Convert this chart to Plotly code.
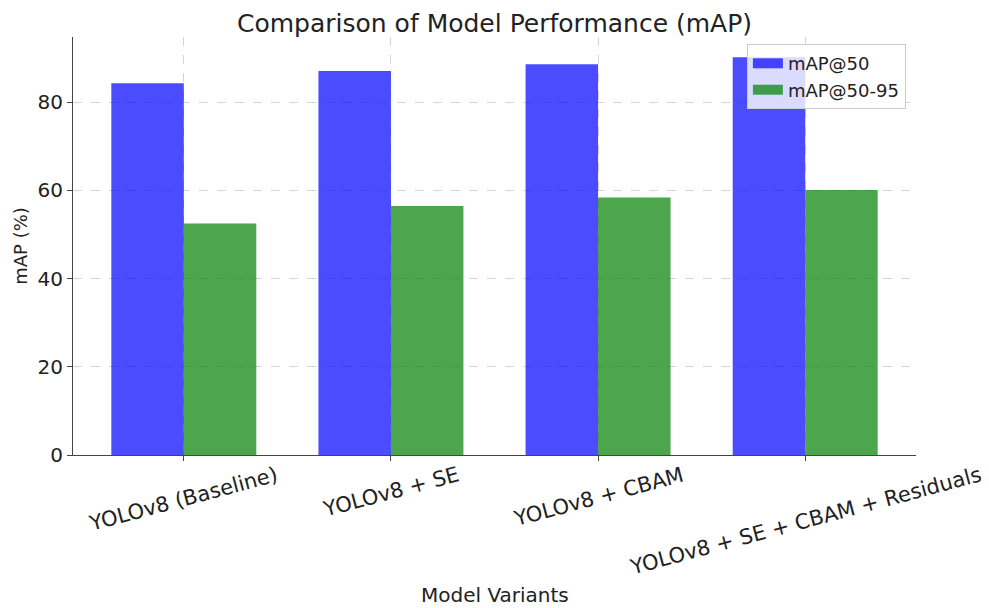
import plotly.graph_objects as go

models = ["YOLOv8 (Baseline)", "YOLOv8 + SE", "YOLOv8 + CBAM", "YOLOv8 + SE + CBAM + Residuals"]
map50 = [84.3, 87.1, 88.6, 90.2]
map50_95 = [52.5, 56.5, 58.4, 60.1]
series_names = ["mAP@50", "mAP@50-95"]
y_ticks = [0, 20, 40, 60, 80]

FONT = "DejaVu Sans"
TXT = "#222222"
COLORS = ["rgba(0,0,255,0.7)", "rgba(0,128,0,0.7)"]

fig = go.Figure()
for name, vals, col in zip(series_names, [map50, map50_95], COLORS):
    fig.add_trace(go.Bar(x=models, y=vals, name=name, showlegend=False, legendgroup=name,
                         marker=dict(color=col, line=dict(width=0))))
# legend entries drawn as wide rectangular swatches (like matplotlib patches)
for name, col in zip(series_names, COLORS):
    fig.add_trace(go.Scatter(x=[None], y=[None], mode="lines", name=name, legendgroup=name,
                             line=dict(color=col, width=11), hoverinfo="skip"))

for m in models:
    fig.add_annotation(x=m, y=0, xref="x", yref="paper", text=m, showarrow=False,
                       textangle=-15, xanchor="center", yanchor="top", yshift=-5,
                       font=dict(family=FONT, size=21, color=TXT))

fig.add_annotation(x=0.5, y=0, xref="paper", yref="paper", text="Model Variants",
                   showarrow=False, xanchor="center", yanchor="middle", yshift=-140,
                   font=dict(family=FONT, size=20, color=TXT))

fig.update_layout(
    width=981, height=600,
    margin=dict(l=65, r=73, t=29, b=153),
    paper_bgcolor="white", plot_bgcolor="white",
    barmode="group", bargap=0.3, bargroupgap=0,
    font=dict(family=FONT, color=TXT),
    title=dict(text="Comparison of Model Performance (mAP)", x=(65 + 908) / 2 / 981, xanchor="center",
               y=1 - 15 / 600, yanchor="middle", pad=dict(t=0, b=0),
               font=dict(family=FONT, size=25, color=TXT)),
    legend=dict(x=0.988, y=0.983, xanchor="right", yanchor="top",
                bgcolor="rgba(255,255,255,0.8)", bordercolor="#cccccc", borderwidth=1,
                font=dict(family=FONT, size=18, color=TXT), tracegroupgap=0, itemwidth=30),
    showlegend=True,
)
fig.update_xaxes(range=[-0.535, 3.535], showticklabels=False, ticks="outside", ticklen=5,
                 tickcolor="#444", showline=True, linecolor="#444", linewidth=1.2,
                 showgrid=True, gridcolor="#d5d5d5", griddash="dash", gridwidth=1)
fig.update_yaxes(range=[0, 94.8], tickvals=y_ticks, ticks="outside", ticklen=5,
                 tickcolor="#444", showline=True, linecolor="#444", linewidth=1.2,
                 showgrid=True, gridcolor="#d5d5d5", griddash="dash", gridwidth=1,
                 zeroline=False, tickfont=dict(family=FONT, size=20, color=TXT),
                 title=dict(text="mAP (%)", font=dict(family=FONT, size=18, color=TXT), standoff=5))

fig.write_html("out.html")
